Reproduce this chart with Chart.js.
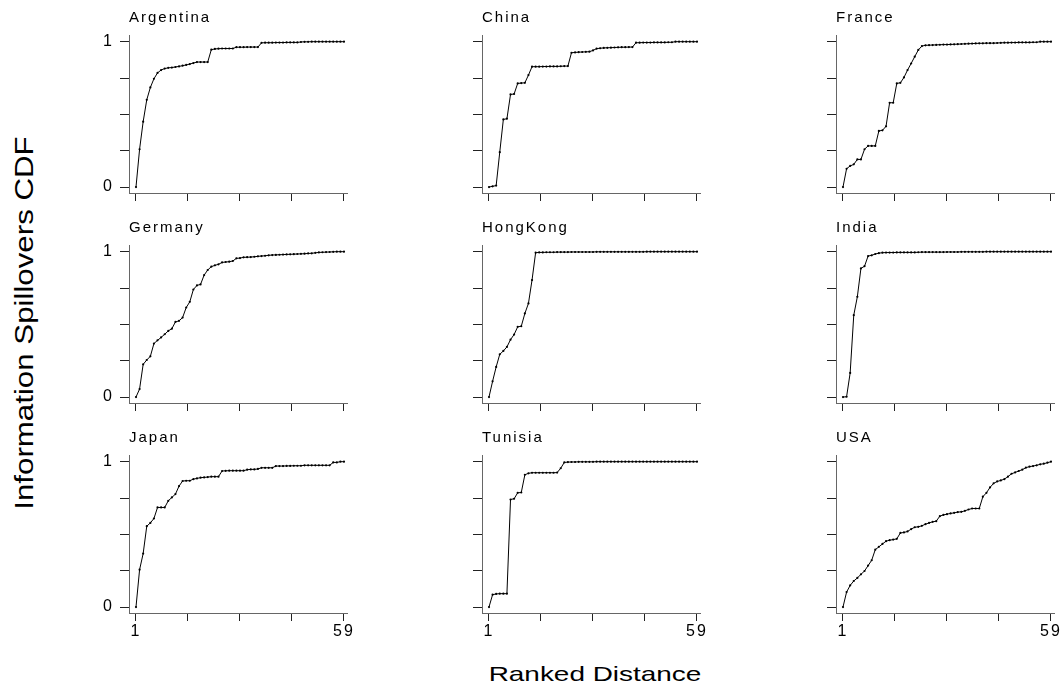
<!DOCTYPE html>
<html>
<head>
<meta charset="utf-8">
<script src="https://cdn.jsdelivr.net/npm/chart.js@4.4.1/dist/chart.umd.min.js"></script>
<style>
  html, body { margin: 0; padding: 0; background: #fff; }
  #wrap { position: relative; width: 1063px; height: 690px; overflow: hidden; background: #fff; }
  #wrap canvas { position: absolute; }
  .axt { position: absolute; font-family: "Liberation Sans", Arial, sans-serif; color: #000; white-space: nowrap; line-height: 1; }
</style>
</head>
<body>
<div id="wrap">
  <div class="axt" id="ytitle" style="font-size:25px; left:23.5px; top:322.5px; transform: translate(-50%,-50%) rotate(-90deg) scaleX(1.25);">Information Spillovers CDF</div>
  <div class="axt" id="xtitle" style="font-size:21px; left:595px; top:672.5px; transform: translate(-50%,-50%) scaleX(1.33);">Ranked Distance</div>
</div>
<script>
// ---- data ----
const ranks = [1,2,3,4,5,6,7,8,9,10,11,12,13,14,15,16,17,18,19,20,21,22,23,24,25,26,27,28,29,30,
  31,32,33,34,35,36,37,38,39,40,41,42,43,44,45,46,47,48,49,50,51,52,53,54,55,56,57,58,59];

const countries = ['Argentina','China','France','Germany','HongKong','India','Japan','Tunisia','USA'];

const argentina = [0,0.26,0.45,0.60,0.685,0.745,0.785,0.805,0.815,0.82,
  0.822,0.826,0.83,0.835,0.84,0.846,0.853,0.86,0.86,0.86,
  0.86,0.945,0.95,0.952,0.953,0.953,0.953,0.953,0.962,0.962,
  0.962,0.963,0.963,0.963,0.963,0.992,0.993,0.993,0.993,0.994,
  0.994,0.994,0.995,0.995,0.995,0.995,0.998,0.999,0.999,1,
  1,1,1,1,1,1,1,1,1];
const china = [0,0.005,0.01,0.24,0.465,0.47,0.637,0.64,0.713,0.715,
  0.717,0.77,0.828,0.828,0.828,0.829,0.829,0.83,0.83,0.83,
  0.831,0.832,0.832,0.924,0.926,0.928,0.929,0.93,0.931,0.94,
  0.952,0.955,0.957,0.958,0.959,0.96,0.961,0.962,0.962,0.963,
  0.963,0.993,0.993,0.994,0.994,0.994,0.995,0.995,0.995,0.995,
  0.996,0.996,1,1,1,1,1,1,1];
const france = [0,0.126,0.145,0.156,0.19,0.19,0.26,0.283,0.283,0.283,
  0.386,0.39,0.418,0.58,0.58,0.713,0.717,0.754,0.805,0.85,
  0.897,0.943,0.97,0.975,0.976,0.977,0.978,0.979,0.98,0.98,
  0.981,0.982,0.983,0.984,0.985,0.986,0.987,0.988,0.989,0.989,
  0.99,0.99,0.99,0.991,0.992,0.993,0.993,0.994,0.994,0.995,
  0.995,0.995,0.995,0.996,0.996,1,1,1,1];
const germany = [0,0.055,0.225,0.255,0.28,0.368,0.39,0.41,0.432,0.455,
  0.47,0.517,0.524,0.547,0.616,0.655,0.74,0.768,0.775,0.839,
  0.874,0.897,0.906,0.913,0.926,0.929,0.931,0.936,0.954,0.956,
  0.961,0.962,0.963,0.965,0.968,0.97,0.972,0.975,0.977,0.978,
  0.979,0.98,0.981,0.982,0.983,0.984,0.985,0.986,0.988,0.989,
  0.992,0.995,0.996,0.997,0.998,0.999,1,1,1];
const hongkong = [0,0.108,0.207,0.294,0.317,0.345,0.395,0.43,0.483,0.487,
  0.575,0.644,0.805,0.993,0.995,0.995,0.996,0.996,0.996,0.997,
  0.997,0.997,0.997,0.998,0.998,0.998,0.998,0.998,0.998,0.998,
  0.999,0.999,0.999,0.999,0.999,0.999,0.999,0.999,0.999,0.999,
  0.999,0.999,0.999,0.999,1,1,1,1,1,1,
  1,1,1,1,1,1,1,1,1];
const india = [0,0.002,0.166,0.563,0.69,0.885,0.9,0.97,0.975,0.984,
  0.99,0.993,0.994,0.994,0.994,0.995,0.995,0.995,0.995,0.995,
  0.995,0.996,0.997,0.997,0.997,0.997,0.997,0.997,0.997,0.998,
  0.998,0.998,0.998,0.999,0.999,0.999,0.999,0.999,0.999,0.999,
  1,1,1,1,1,1,1,1,1,1,
  1,1,1,1,1,1,1,1,1];
const japan = [0,0.257,0.368,0.556,0.579,0.609,0.685,0.685,0.685,0.731,
  0.754,0.777,0.832,0.867,0.869,0.869,0.88,0.885,0.89,0.892,
  0.894,0.897,0.897,0.897,0.936,0.937,0.938,0.938,0.938,0.938,
  0.938,0.945,0.947,0.947,0.95,0.958,0.958,0.958,0.958,0.97,
  0.97,0.97,0.971,0.971,0.972,0.972,0.972,0.975,0.975,0.975,
  0.975,0.975,0.975,0.975,0.975,0.995,0.995,1,1];
const tunisia = [0,0.085,0.09,0.092,0.092,0.092,0.74,0.745,0.786,0.788,
  0.91,0.92,0.924,0.924,0.924,0.924,0.924,0.924,0.924,0.925,
  0.955,0.995,0.997,0.998,0.998,0.999,0.999,0.999,0.999,0.999,
  1,1,1,1,1,1,1,1,1,1,
  1,1,1,1,1,1,1,1,1,1,
  1,1,1,1,1,1,1,1,1];
const usa = [0,0.103,0.149,0.179,0.2,0.225,0.248,0.285,0.322,0.395,
  0.414,0.434,0.453,0.46,0.464,0.469,0.51,0.513,0.52,0.536,
  0.549,0.552,0.559,0.57,0.579,0.586,0.591,0.625,0.634,0.639,
  0.644,0.648,0.653,0.655,0.662,0.671,0.678,0.678,0.678,0.759,
  0.786,0.823,0.851,0.864,0.871,0.88,0.897,0.917,0.926,0.936,
  0.945,0.959,0.966,0.97,0.975,0.982,0.986,0.993,1];

const seriesList = [argentina, china, france, germany, hongkong, india, japan, tunisia, usa];

const xTickValues = [1, 15.5, 30, 44.5, 59];
const xTickLabels = ['1', '', '', '', '59'];
const yTickValues = [0, 0.25, 0.5, 0.75, 1];
const yTickLabels = ['0', '', '', '', '1'];

// ---- layout ----
const colAxisX = [129, 482, 836];
const rowTop = [0, 210, 420];
const Y_AXIS_W = 50, X_AXIS_H = 32, TITLE_H = 35, RIGHT_PAD = 14;
const PLOT_W = 218, PLOT_H = 158;

Chart.defaults.font.family = '"Liberation Sans", Arial, sans-serif';
Chart.defaults.color = '#000';

const spacingPlugin = {
  id: 'spacing',
  beforeDraw(chart) { chart.ctx.letterSpacing = '2px'; }
};

const wrap = document.getElementById('wrap');

countries.forEach((name, i) => {
  const r = Math.floor(i / 3), c = i % 3;
  const cv = document.createElement('canvas');
  const w = Y_AXIS_W + PLOT_W + RIGHT_PAD;
  const h = TITLE_H + PLOT_H + X_AXIS_H;
  cv.width = w; cv.height = h;
  cv.style.width = w + 'px'; cv.style.height = h + 'px';
  cv.style.left = (colAxisX[c] - Y_AXIS_W) + 'px';
  cv.style.top = rowTop[r] + 'px';
  wrap.appendChild(cv);

  const values = seriesList[i];
  const pts = ranks.map((x, k) => ({ x: x, y: values[k] }));

  new Chart(cv, {
    type: 'line',
    data: {
      datasets: [{
        label: name,
        data: pts,
        borderColor: '#000',
        borderWidth: 1,
        pointRadius: 1.1,
        pointBorderWidth: 0,
        pointBackgroundColor: '#000',
        tension: 0,
        fill: false
      }]
    },
    plugins: [spacingPlugin],
    options: {
      responsive: false,
      animation: false,
      events: [],
      layout: { padding: { left: 0, right: RIGHT_PAD, top: 0, bottom: 0 }, autoPadding: false },
      plugins: {
        legend: { display: false },
        tooltip: { enabled: false },
        title: {
          display: true,
          text: name,
          align: 'start',
          fullSize: false,
          color: '#000',
          font: { size: 15, weight: 'normal', lineHeight: 1 },
          padding: { top: 10, bottom: 10 }
        }
      },
      scales: {
        x: {
          type: 'linear',
          min: -0.952,
          max: 59.84,
          afterBuildTicks: (s) => { s.ticks = xTickValues.map(v => ({ value: v })); },
          afterFit: (s) => { s.height = X_AXIS_H; },
          ticks: {
            autoSkip: false,
            maxRotation: 0,
            padding: 1,
            color: '#000',
            font: { size: 16 },
            callback: (v) => {
              if (r !== 2) return '';
              const k = xTickValues.indexOf(v);
              return k >= 0 ? xTickLabels[k] : '';
            }
          },
          grid: { drawOnChartArea: false, drawTicks: true, tickLength: 8, color: '#222', tickWidth: 1 },
          border: { display: true, color: '#666', width: 1 }
        },
        y: {
          type: 'linear',
          min: -0.041,
          max: 1.046,
          afterBuildTicks: (s) => { s.ticks = yTickValues.map(v => ({ value: v })); },
          afterFit: (s) => { s.width = Y_AXIS_W; },
          ticks: {
            autoSkip: false,
            padding: 6,
            color: '#000',
            font: { size: 16 },
            callback: (v) => {
              if (c !== 0) return '';
              const k = yTickValues.indexOf(v);
              return k >= 0 ? yTickLabels[k] : '';
            }
          },
          grid: { drawOnChartArea: false, drawTicks: true, tickLength: 9, color: '#222', tickWidth: 1 },
          border: { display: true, color: '#666', width: 1 }
        }
      }
    }
  });
});
</script>
</body>
</html>
